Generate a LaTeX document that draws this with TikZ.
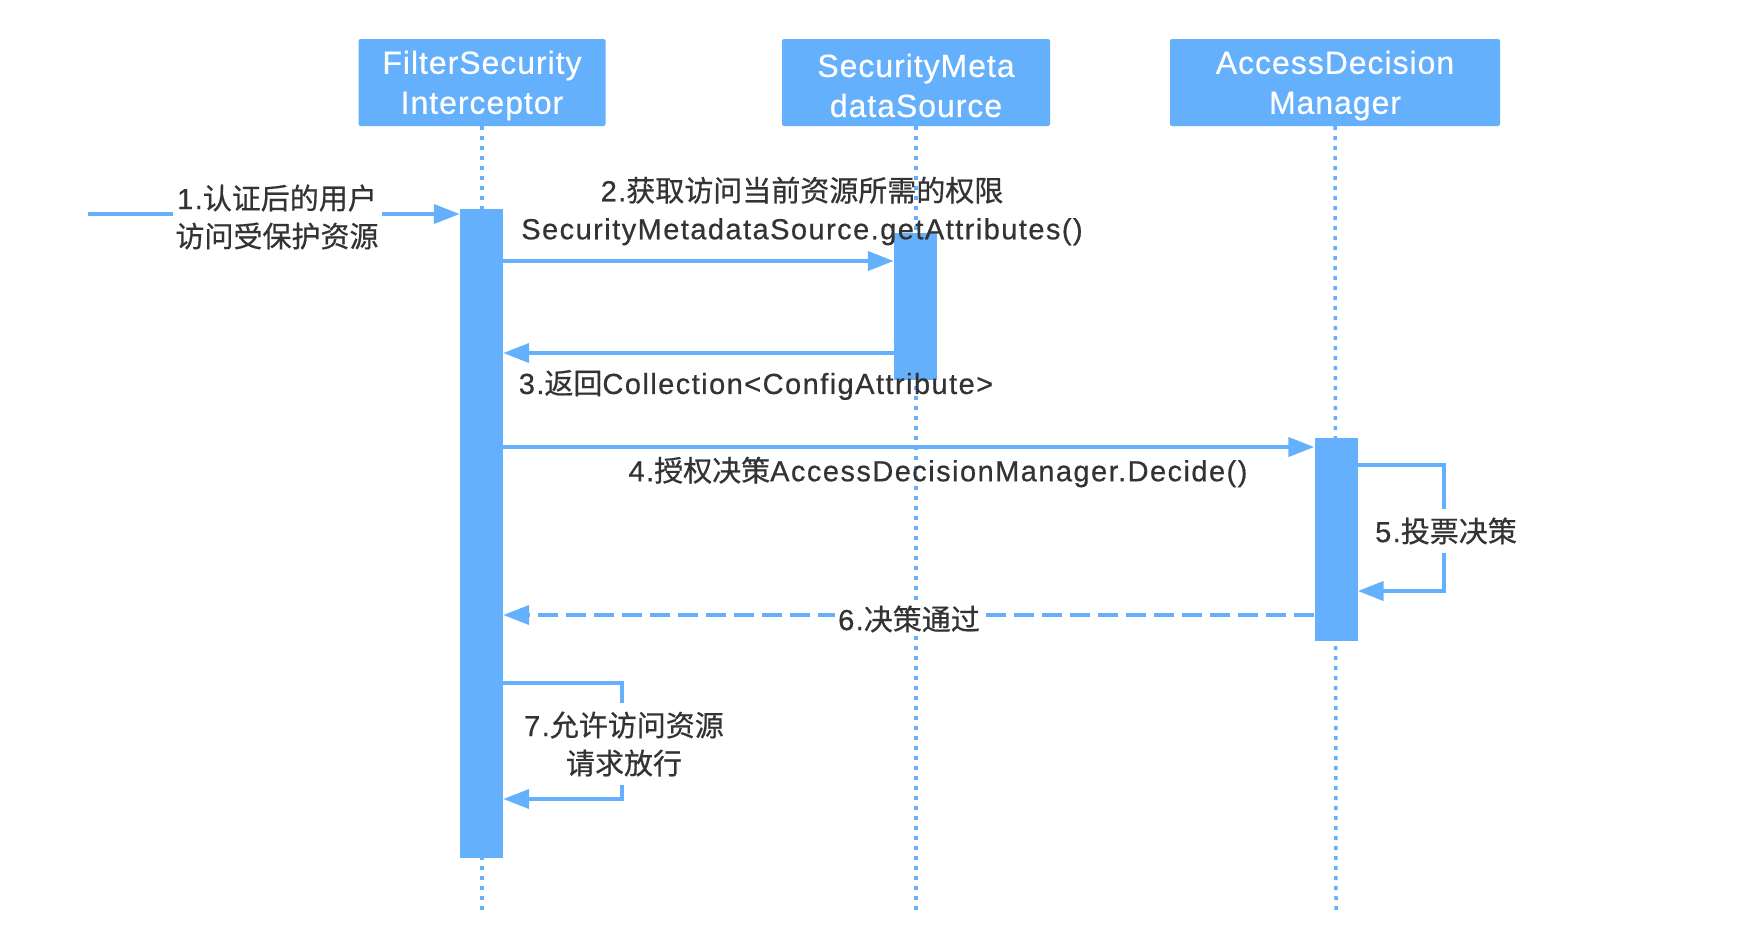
\documentclass[tikz,border=0pt]{standalone}
\usepackage{fontspec}
\setmainfont[LetterSpace=5,FakeBold=0.6]{Liberation Sans}
\newfontfamily\headfont[LetterSpace=3,FakeBold=0.5]{Liberation Sans}
\newfontfamily\zh[FakeBold=0.6]{Noto Sans CJK SC}
\usetikzlibrary{arrows.meta}
\definecolor{lb}{HTML}{64B0FC}
\definecolor{tx}{HTML}{333333}
\begin{document}
\begin{tikzpicture}[x=1pt,y=-1pt,
  every node/.style={font=\fontsize{29}{38}\selectfont, text=tx},
  head/.style={fill=lb, rounded corners=2pt, minimum height=87pt, inner sep=0pt,
    label={[text=white, align=center, font=\headfont\fontsize{32}{40}\selectfont, yshift=-3pt]center:#1}},
  actbox/.style={fill=lb, minimum width=43pt, inner sep=0pt},
  life/.style={draw=lb, line width=3.5pt, dash pattern=on 4pt off 6pt},
  msg/.style={draw=lb, line width=4pt, -{Triangle[length=26pt,width=19pt]}},
  ret/.style={msg, dash pattern=on 20pt off 8pt},
  lbl/.style={align=center, inner sep=0pt},
  wlbl/.style={align=center, fill=white, inner xsep=3pt, inner ysep=9pt}]
\useasboundingbox (0,0) rectangle (1764,938);
% heads
\node[head={FilterSecurity\\Interceptor}, minimum width=247pt] (h1) at (482,82.5) {};
\node[head={SecurityMeta\\dataSource}, minimum width=268pt] (h2) at (916,82.5) {};
\node[head={AccessDecision\\Manager}, minimum width=330pt] (h3) at (1335,82.5) {};
% lifeline ends
\coordinate (e1) at (482,911);
\coordinate (e2) at (916,911);
\coordinate (e3) at (1336,911);
\draw[life] (h1.south) -- (e1);
\draw[life] (h2.south) -- (e2);
\draw[life] (h3.south) -- (e3);
% activations
\node[actbox, minimum height=649pt] (a1) at (481.5,533.5) {};
\node[actbox, minimum height=147pt] (a2) at (915.5,306.5) {};
\node[actbox, minimum height=203pt] (a3) at (1336,539.5) {};
% 1
\coordinate (start) at (88,214);
\draw[msg] (start) -- (a1.west |- start);
\node[wlbl] (l1) at (277,217) {1.{\zh 认证后的用户}\\{\zh 访问受保护资源}};
% 2
\draw[msg] (a1.east |- 0,261) -- (a2.west |- 0,261);
\node[lbl] (l2) at (802,211) {2.{\zh 获取访问当前资源所需的权限}\\SecurityMetadataSource.getAttributes()};
% 3
\draw[msg] (a2.west |- 0,353) -- (a1.east |- 0,353);
\node[lbl] (l3) at (756,385) {3.{\zh 返回}Collection<ConfigAttribute>};
% 4
\draw[msg] (a1.east |- 0,447) -- (a3.west |- 0,447);
\node[lbl] (l4) at (938,472) {4.{\zh 授权决策}AccessDecisionManager.Decide()};
% 5
\draw[msg] (a3.east |- 0,465) -- (1444,465) -- (1444,591) -- (a3.east |- 0,591);
\node[wlbl] (l5) at (1446,531) {5.{\zh 投票决策}};
% 6
\draw[ret] (a3.west |- 0,615) -- (a1.east |- 0,615);
\node[wlbl, inner ysep=2pt] (l6) at (909,619) {6.{\zh 决策通过}};
% 7
\draw[msg] (a1.east |- 0,683) -- (622,683) -- (622,799) -- (a1.east |- 0,799);
\node[wlbl] (l7) at (624,744) {7.{\zh 允许访问资源}\\{\zh 请求放行}};
\end{tikzpicture}
\end{document}
